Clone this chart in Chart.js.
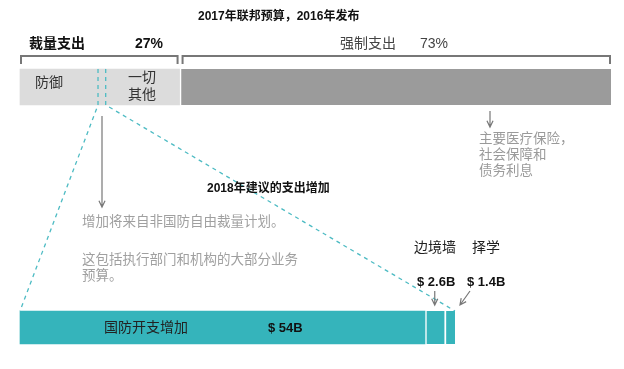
<!DOCTYPE html>
<html>
<head>
<meta charset="utf-8">
<script src="https://cdn.jsdelivr.net/npm/chart.js@4"></script>
<style>
html, body { margin: 0; background: #fff; }
#wrap { width: 624px; height: 369px; }
</style>
</head>
<body>
<div id="wrap"><canvas id="budget"></canvas></div>
<script>
// rows of the y axis: 2017 budget on top, 2018 increase at the bottom
const rows = ['2017', '', '2018'];

// 2017 budget shares, % of total
const topLabels = ['防御', '转移部分', '一切其他', '强制支出'];
const topShares = [13.2, 1.3, 12.5, 73];

// proposed 2018 increases, $B
const incLabels = ['国防开支增加', '边境墙', '择学'];
const incValues = [54, 2.6, 1.4];

const FONT = "'Liberation Sans', 'Noto Sans CJK SC', sans-serif";
const grey = '#dcdcdc';
const dark = '#9b9b9b';
const teal = '#35b4bb';
const dashTeal = '#4dbbc3';

const discShare = topShares[0] + topShares[1] + topShares[2];
const incTotal = incValues.reduce((a, b) => a + b, 0);

const datasets = [];
topShares.forEach((v, i) => {
    datasets.push({
        label: topLabels[i],
        data: [v, null, null],
        xAxisID: 'x',
        backgroundColor: i === 3 ? dark : grey,
        borderColor: '#fff',
        borderWidth: i === 3 ? { left: 2 } : 0,
        borderSkipped: false,
        barThickness: 36,
        clip: false
    });
});
incValues.forEach((v, i) => {
    datasets.push({
        label: incLabels[i],
        data: [null, null, v],
        xAxisID: 'x2',
        backgroundColor: teal,
        borderColor: '#fff',
        borderWidth: i > 0 ? { left: 2 } : 0,
        borderSkipped: false,
        barThickness: 33,
        clip: false
    });
});

function txt(ctx, s, x, y, size, color, bold) {
    ctx.font = (bold ? 'bold ' : '') + size + 'px ' + FONT;
    ctx.fillStyle = color;
    ctx.textAlign = 'left';
    ctx.textBaseline = 'middle';
    ctx.fillText(s, x, y);
}

function arrow(ctx, x1, y1, x2, y2) {
    const a = Math.atan2(y2 - y1, x2 - x1);
    const h = 7;
    ctx.beginPath();
    ctx.moveTo(x1, y1);
    ctx.lineTo(x2, y2);
    ctx.moveTo(x2 - h * Math.cos(a - 0.45), y2 - h * Math.sin(a - 0.45));
    ctx.lineTo(x2, y2);
    ctx.lineTo(x2 - h * Math.cos(a + 0.45), y2 - h * Math.sin(a + 0.45));
    ctx.stroke();
}

const annotations = {
    id: 'annotations',
    afterDatasetsDraw(chart) {
        const ctx = chart.ctx;
        const x = chart.scales.x;
        const x2 = chart.scales.x2;
        const topBar = chart.getDatasetMeta(0).data[0];
        const botBar = chart.getDatasetMeta(4).data[2];
        const tTop = topBar.y - topBar.height / 2;
        const tBot = topBar.y + topBar.height / 2;
        const bTop = botBar.y - botBar.height / 2;
        ctx.save();

        // brackets over discretionary / mandatory
        ctx.strokeStyle = '#777';
        ctx.lineWidth = 2;
        const bY = 56;
        const brackets = [[x.getPixelForValue(0), x.getPixelForValue(discShare) - 1],
                          [x.getPixelForValue(discShare) + 2, x.getPixelForValue(100)]];
        brackets.forEach(([a, b]) => {
            ctx.beginPath();
            ctx.moveTo(a + 1, bY + 8);
            ctx.lineTo(a + 1, bY);
            ctx.lineTo(b - 1, bY);
            ctx.lineTo(b - 1, bY + 8);
            ctx.stroke();
        });

        // dashed outline of the money moved
        const m0 = x.getPixelForValue(topShares[0]);
        const m1 = x.getPixelForValue(topShares[0] + topShares[1]);
        ctx.strokeStyle = dashTeal;
        ctx.lineWidth = 1.3;
        ctx.setLineDash([4, 4]);
        ctx.beginPath();
        ctx.moveTo(m0, tTop); ctx.lineTo(m0, tBot);
        ctx.lineTo(x2.getPixelForValue(0), bTop);
        ctx.moveTo(m1, tTop); ctx.lineTo(m1, tBot);
        ctx.lineTo(x2.getPixelForValue(incTotal), bTop);
        ctx.stroke();
        ctx.setLineDash([]);

        // arrows
        ctx.strokeStyle = '#777';
        ctx.lineWidth = 1.2;
        arrow(ctx, 102, 116, 102, 207);
        arrow(ctx, 490, 111, 490, 127);
        const wallMid = x2.getPixelForValue(incValues[0] + incValues[1] / 2);
        arrow(ctx, wallMid, 291, wallMid, 305);
        arrow(ctx, 470, 291, 460, 305);

        // texts
        txt(ctx, '2017年联邦预算，2016年发布', 198, 17, 12, '#111', true);
        txt(ctx, '裁量支出', 29, 44, 14, '#111', true);
        txt(ctx, Math.round(discShare) + '%', 135, 44, 14, '#111', true);
        txt(ctx, topLabels[3], 340, 44, 14, '#444', false);
        txt(ctx, Math.round(topShares[3]) + '%', 420, 44, 14, '#444', false);
        txt(ctx, topLabels[0], 35, 83, 14, '#333', false);
        txt(ctx, topLabels[2].slice(0, 2), 128, 78, 14, '#333', false);
        txt(ctx, topLabels[2].slice(2), 128, 95, 14, '#333', false);

        txt(ctx, '主要医疗保险，', 479, 139, 13.5, '#9a9a9a', false);
        txt(ctx, '社会保障和', 479, 155, 13.5, '#9a9a9a', false);
        txt(ctx, '债务利息', 479, 171, 13.5, '#9a9a9a', false);

        txt(ctx, '2018年建议的支出增加', 207, 189, 12, '#111', true);
        txt(ctx, '增加将来自非国防自由裁量计划。', 82, 222, 13.5, '#a0a0a0', false);
        txt(ctx, '这包括执行部门和机构的大部分业务', 82, 260, 13.5, '#a0a0a0', false);
        txt(ctx, '预算。', 82, 276, 13.5, '#a0a0a0', false);

        txt(ctx, incLabels[1], 414, 248, 14, '#222', false);
        txt(ctx, incLabels[2], 472, 248, 14, '#222', false);
        txt(ctx, '$ ' + incValues[1] + 'B', 417, 282, 13, '#111', true);
        txt(ctx, '$ ' + incValues[2] + 'B', 467, 282, 13, '#111', true);
        txt(ctx, incLabels[0], 104, 328, 14, '#222', false);
        txt(ctx, '$ ' + incValues[0] + 'B', 268, 328, 13, '#111', true);

        ctx.restore();
    }
};

const config = {
    type: 'bar',
    data: { labels: rows, datasets: datasets },
    options: {
        indexAxis: 'y',
        responsive: true,
        maintainAspectRatio: false,
        animation: false,
        events: [],
        layout: { padding: { left: 20, right: 13, top: 87, bottom: 41.5 } },
        plugins: { legend: { display: false }, tooltip: { enabled: false } },
        scales: {
            y: { type: 'category', stacked: true, offset: false, display: false },
            x: { stacked: true, min: 0, max: 100, display: false },
            // the increase bar spans 435 of the 591 px plot width
            x2: { stacked: true, min: 0, max: incTotal * 591 / 435, display: false, position: 'bottom' }
        }
    },
    plugins: [annotations]
};

new Chart(document.getElementById('budget'), config);
</script>
</body>
</html>
